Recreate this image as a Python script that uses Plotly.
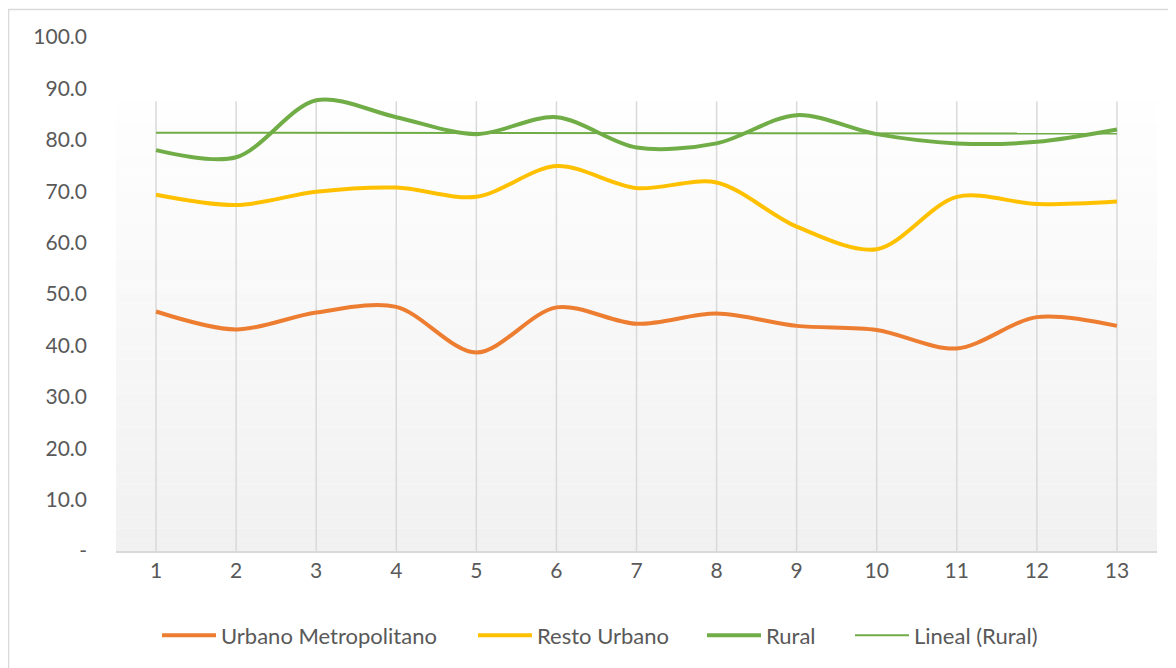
import numpy as np
import plotly.graph_objects as go

categories = [1, 2, 3, 4, 5, 6, 7, 8, 9, 10, 11, 12, 13]
urbano_metropolitano = [46.6, 43.1, 46.4, 47.5, 38.6, 47.4, 44.2, 46.2, 43.8, 43.0, 39.4, 45.5, 43.8]
resto_urbano = [69.3, 67.3, 69.9, 70.7, 68.9, 74.9, 70.6, 71.7, 63.1, 58.7, 68.9, 67.5, 68.0]
rural = [78.0, 76.6, 87.7, 84.4, 81.1, 84.4, 78.5, 79.3, 84.8, 81.1, 79.3, 79.6, 82.0]
y_tickvals = [0, 10, 20, 30, 40, 50, 60, 70, 80, 90, 100]
y_ticktext = ["-", "10.0", "20.0", "30.0", "40.0", "50.0", "60.0", "70.0", "80.0", "90.0", "100.0"]

# linear trend of Rural
slope, intercept = np.polyfit(categories, rural, 1)
trend = [slope * c + intercept for c in categories]

FONT = "Lato"
TXT = "#595959"

W, H = 1168, 660
ML, MR, MT, MB = 108, 19, 29, 117
PW = W - ML - MR
PH = H - MT - MB

def px_to_paper_x(px):
    return (px - ML) / PW

def px_to_paper_y(py):
    return 1 - (py - MT) / PH

fig = go.Figure()
fig.add_trace(go.Scatter(x=categories, y=urbano_metropolitano, name="Urbano Metropolitano", legend="legend",
                         mode="lines", line=dict(color="#ED7D31", width=4, shape="spline", smoothing=0.9)))
fig.add_trace(go.Scatter(x=categories, y=resto_urbano, name="Resto Urbano", legend="legend2",
                         mode="lines", line=dict(color="#FFC000", width=4, shape="spline", smoothing=0.9)))
fig.add_trace(go.Scatter(x=categories, y=rural, name="Rural", legend="legend3",
                         mode="lines", line=dict(color="#70AD47", width=4, shape="spline", smoothing=0.9)))
fig.add_trace(go.Scatter(x=categories, y=trend, name="Lineal (Rural)", legend="legend4",
                         mode="lines", line=dict(color="#70AD47", width=2)))

# background gradient of inner plot area
shapes = []
n = 40
top = 0.875
for i in range(n):
    y0 = top * i / n
    y1 = top * (i + 1) / n
    t = i / (n - 1)
    v = int(round(0xf1 + (0xfe - 0xf1) * t))
    col = f"rgb({v},{v},{v})"
    shapes.append(dict(type="rect", xref="x domain", yref="y domain", x0=0, x1=1, y0=y0, y1=y1,
                       fillcolor=col, line=dict(width=0), layer="below"))
# vertical gridlines limited to the inner plot area
for c in categories:
    shapes.append(dict(type="line", xref="x", yref="y domain", x0=c, x1=c, y0=0, y1=top,
                       line=dict(color="#d9d9d9", width=1.5), layer="below"))
# chart border (top and left edges visible)
shapes.append(dict(type="rect", xref="paper", yref="paper",
                   x0=px_to_paper_x(0.5), x1=px_to_paper_x(W + 20),
                   y0=px_to_paper_y(H + 20), y1=px_to_paper_y(1.5),
                   line=dict(color="#d9d9d9", width=1.5), fillcolor="rgba(0,0,0,0)", layer="below"))

legend_font = dict(family=FONT, size=22, color=TXT)
legend_y = -0.135 + 6 / PH
# sample start positions (figure px)
leg_px = [154, 470, 699, 847]
off = 5
legends = {}
for i, p in enumerate(leg_px):
    key = "legend" if i == 0 else f"legend{i+1}"
    legends[key] = dict(orientation="h", x=px_to_paper_x(p - off), xanchor="left",
                        y=legend_y, yanchor="top", font=legend_font, itemwidth=54,
                        bgcolor="rgba(0,0,0,0)")

fig.update_layout(
    width=W, height=H,
    margin=dict(l=ML, r=MR, t=MT, b=MB, autoexpand=False),
    paper_bgcolor="white", plot_bgcolor="white",
    font=dict(family=FONT, color=TXT, size=21),
    shapes=shapes,
    showlegend=True,
    xaxis=dict(range=[0.5, 13.5], tickvals=categories, ticktext=[str(c) for c in categories],
               showgrid=False,
               showline=True, linecolor="#d9d9d9", linewidth=2, ticks="", zeroline=False,
               tickfont=dict(family=FONT, size=21, color=TXT), automargin=False),
    yaxis=dict(range=[0, 100], tickvals=y_tickvals, ticktext=y_ticktext,
               showgrid=False, showline=False, zeroline=False, ticks="",
               tickfont=dict(family=FONT, size=21, color=TXT), ticklabelstandoff=28, automargin=False),
    **legends,
)

fig.write_html("out.html")
